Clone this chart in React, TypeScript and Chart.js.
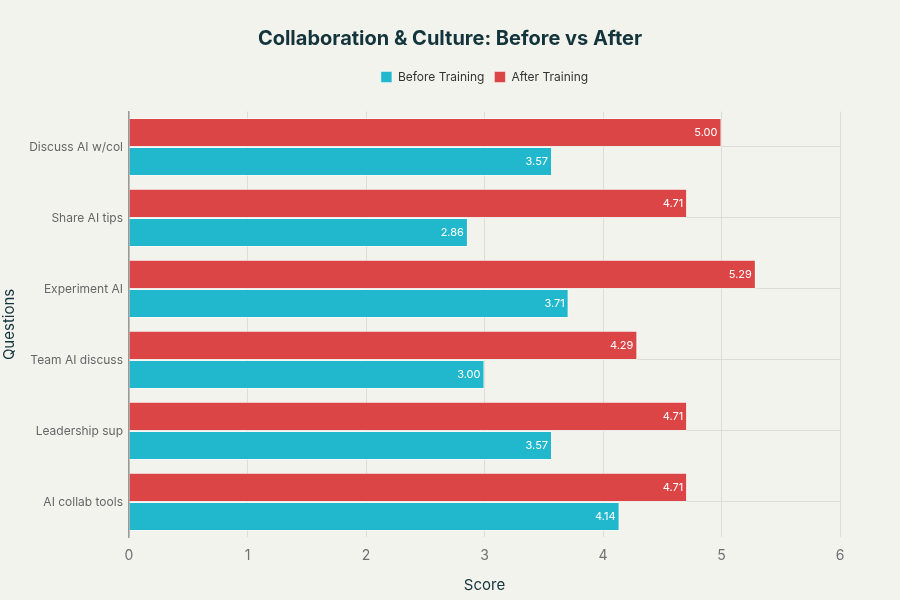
import React, { useEffect, useRef } from "react";
import { Chart, registerables, Plugin } from "chart.js";

Chart.register(...registerables);

const questions = [
  "Discuss AI w/col",
  "Share AI tips",
  "Experiment AI",
  "Team AI discuss",
  "Leadership sup",
  "AI collab tools",
];
const beforeScores = [3.57, 2.86, 3.71, 3.0, 3.57, 4.14];
const afterScores = [5.0, 4.71, 5.29, 4.29, 4.71, 4.71];
const scoreTicks = [0, 1, 2, 3, 4, 5, 6];

const FONT = "Inter, 'Noto Sans', sans-serif";

// value text drawn inside the end of each bar
const barValues: Plugin<"bar"> = {
  id: "barValues",
  afterDatasetsDraw(chart) {
    const ctx = chart.ctx;
    ctx.save();
    ctx.font = `11px ${FONT}`;
    ctx.fillStyle = "#ffffff";
    ctx.textAlign = "right";
    ctx.textBaseline = "middle";
    chart.data.datasets.forEach((ds, i) => {
      const meta = chart.getDatasetMeta(i);
      meta.data.forEach((bar, j) => {
        const v = ds.data[j] as number;
        ctx.fillText(v.toFixed(2), bar.x - 4, bar.y);
      });
    });
    ctx.restore();
  },
};

const background: Plugin<"bar"> = {
  id: "bg",
  beforeDraw(chart) {
    const ctx = chart.ctx;
    ctx.save();
    ctx.fillStyle = "#f3f3ee";
    ctx.fillRect(0, 0, chart.width, chart.height);
    ctx.restore();
  },
};

export default function App() {
  const canvasRef = useRef<HTMLCanvasElement>(null);

  useEffect(() => {
    const ctx = canvasRef.current?.getContext("2d");
    if (!ctx) return;

    const chart = new Chart(ctx, {
      type: "bar",
      data: {
        labels: questions,
        datasets: [
          {
            label: "After Training",
            data: afterScores,
            backgroundColor: "#db4545",
            borderColor: "rgba(255,255,255,0.45)",
            borderWidth: 1,
            barPercentage: 1,
            categoryPercentage: 0.82,
          },
          {
            label: "Before Training",
            data: beforeScores,
            backgroundColor: "#21b8cd",
            borderColor: "rgba(255,255,255,0.45)",
            borderWidth: 1,
            barPercentage: 1,
            categoryPercentage: 0.82,
          },
        ],
      },
      options: {
        indexAxis: "y",
        animation: false,
        responsive: false,
        layout: { padding: { left: 0, right: 0, top: 0, bottom: 6 } },
        scales: {
          x: {
            min: 0,
            max: 6,
            afterBuildTicks: (axis) => {
              axis.ticks = scoreTicks.map((v) => ({ value: v }));
            },
            grid: { color: "#dedcd6", drawTicks: false },
            border: { display: false },
            ticks: { color: "#707070", font: { family: FONT, size: 14 }, padding: 9.6 },
            title: {
              display: true,
              text: "Score",
              color: "#13343b",
              font: { family: FONT, size: 15 },
              padding: { top: 2.6, bottom: 0 },
            },
          },
          y: {
            afterFit: (axis) => {
              axis.width = 129;
            },
            grid: { color: "#dedcd6", offset: false, drawTicks: false },
            border: { display: true, color: "#9a9a9a", width: 1.5 },
            ticks: { color: "#666666", font: { family: FONT, size: 12 }, padding: 6 },
            title: {
              display: true,
              text: "Questions",
              color: "#13343b",
              font: { family: FONT, size: 15 },
              padding: { top: 0, bottom: 0 },
            },
          },
          // empty axis that keeps 60px free at the right of the plot
          spacer: {
            type: "linear",
            position: "right",
            display: true,
            afterFit: (axis) => {
              axis.width = 60;
            },
            grid: { display: false },
            border: { display: false },
            ticks: { display: false },
          },
        },
        plugins: {
          title: {
            display: true,
            text: "Collaboration & Culture: Before vs After",
            color: "#13343b",
            font: { family: FONT, size: 20, weight: "bold" },
            padding: { top: 27, bottom: 10 },
          },
          legend: {
            display: true,
            fullSize: false,
            labels: {
              boxWidth: 11,
              boxHeight: 11,
              color: "#333333",
              font: { family: FONT, size: 12 },
              padding: 10,
              sort: (a, b) => (b.datasetIndex ?? 0) - (a.datasetIndex ?? 0),
            },
          },
          // blank line between the legend and the plot
          subtitle: {
            display: true,
            text: " ",
            weight: 500,
            fullSize: false,
            font: { size: 1 },
            padding: { top: 0, bottom: 17.3 },
          },
          tooltip: { enabled: false },
        },
      },
      plugins: [background, barValues],
    });

    return () => chart.destroy();
  }, []);

  return (
    <div style={{ position: "absolute", left: 0, top: 0, width: 900, height: 600 }}>
      <canvas ref={canvasRef} width={900} height={600} />
    </div>
  );
}
